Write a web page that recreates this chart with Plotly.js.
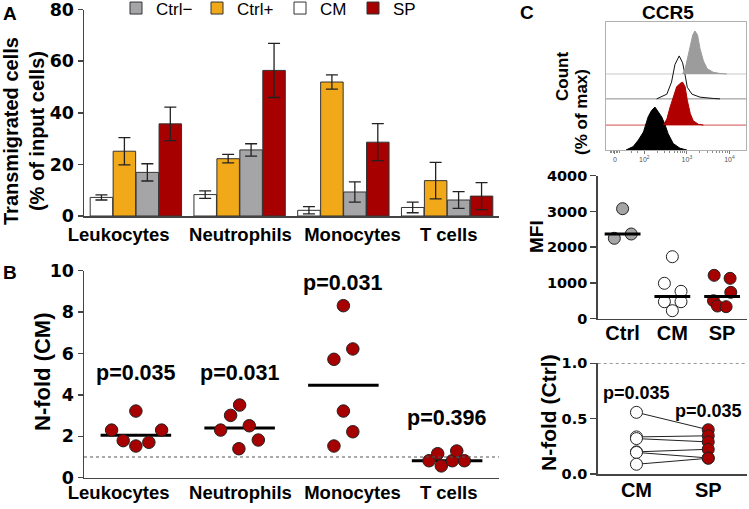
<!DOCTYPE html>
<html>
<head>
<meta charset="utf-8">
<script src="https://cdn.plot.ly/plotly-3.0.1.min.js"></script>
<style>
html, body { margin: 0; padding: 0; background: #fff; }
#chart { width: 749px; height: 509px; }
</style>
</head>
<body>
<div id="chart"></div>
<script>
// ---- panel A: transmigrated cells (% of input), mean +/- error ----
var cellTypes = ['Leukocytes', 'Neutrophils', 'Monocytes', 'T cells'];
var cmMean = [7.2, 8.3, 2.2, 3.3];
var cmErr = [1.0, 1.45, 1.4, 2.05];
var ctrlPosMean = [25.1, 22.2, 51.9, 13.7];
var ctrlPosErr = [5.3, 1.65, 2.75, 7.05];
var ctrlNegMean = [16.9, 25.6, 9.3, 6.2];
var ctrlNegErr = [3.35, 2.4, 3.9, 3.25];
var spMean = [35.7, 56.4, 28.6, 7.7];
var spErr = [6.5, 10.5, 7.15, 5.2];

// ---- panel B: n-fold of CM, one dot per donor ----
var foldLeuk = [2.30, 1.79, 3.22, 1.53, 1.71, 2.30];
var foldNeut = [2.30, 3.01, 3.51, 2.51, 1.40, 1.82];
var foldMono = [8.31, 6.22, 5.72, 3.22, 2.22, 1.53];
var foldT = [0.82, 1.16, 0.57, 0.82, 1.29, 0.82];
var foldP = ['p=0.035', 'p=0.031', 'p=0.031', 'p=0.396'];

// ---- panel C: CCR5 histograms (log10 scale, % of max) ----
var histIsoX = [1.57, 1.74, 1.86, 1.98, 2.09, 2.17, 2.25, 2.33, 2.41, 2.49, 2.56, 2.68, 2.84, 3.00];
var histIsoY = [0, 8, 23, 42, 77, 92, 100, 88, 77, 58, 38, 15, 4, 0];
var histSpX = [2.45, 2.53, 2.60, 2.68, 2.76, 2.84, 2.90, 2.96, 3.01, 3.08, 3.15, 3.27, 3.39];
var histSpY = [0, 14, 40, 67, 89, 97, 100, 89, 58, 27, 10, 2, 0];
var histCmX = [2.29, 2.53, 2.64, 2.72, 2.82, 2.90, 2.96, 3.01, 3.12, 3.31, 3.62, 3.78];
var histCmY = [0, 11, 39, 80, 100, 84, 55, 27, 11, 4, 1, 0];
var histCtrlX = [2.90, 2.96, 3.01, 3.08, 3.14, 3.19, 3.25, 3.31, 3.39, 3.48, 3.62, 3.78, 3.94];
var histCtrlY = [0, 12, 34, 66, 91, 100, 91, 59, 30, 12, 4, 1, 0];

// MFI per donor
var mfiGroups = ['Ctrl', 'CM', 'SP'];
var mfiCtrl = [3077, 2249, 2369];
var mfiCM = [1734, 990, 766, 475, 475, 224];
var mfiSP = [1213, 1129, 738, 503, 355, 336];

// n-fold of Ctrl, paired donors
var pairGroups = ['CM', 'SP'];
var nfoldCM = [0.557, 0.335, 0.320, 0.200, 0.195, 0.088];
var nfoldSP = [0.400, 0.345, 0.290, 0.223, 0.145, 0.142];
var nfoldP = ['p=0.035', 'p=0.035'];

// horizontal spread of dots inside a column (category units)
var jitLeuk = [-0.234, -0.122, 0, 0, 0.125, 0.248];
var jitNeut = [-0.183, -0.087, 0, 0.093, -0.007, 0.18];
var jitMono = [0, 0.091, -0.091, 0, 0.091, -0.091];
var jitT = [-0.174, -0.091, -0.056, 0.05, 0.093, 0.166];
var jitCtrl = [0, -0.166, 0.174];
var jitCM = [0, -0.16, 0.174, -0.16, 0.174, 0];
var jitSP = [-0.16, 0.16, 0.174, -0.174, -0.094, 0.08];

var W = 749, H = 509;
var TEXT = 'Liberation Sans, Arial, sans-serif';
var NUM = 'DejaVu Sans, sans-serif';
var RED = '#A60000', ORANGE = '#F2A919', GREY = '#A5A5A8';
function dx(a, b) { return [a / W, b / W]; }
function dy(top, bottom) { return [1 - bottom / H, 1 - top / H]; }
function median(a) {
  var s = a.slice().sort(function (p, q) { return p - q; });
  var m = Math.floor(s.length / 2);
  return s.length % 2 ? s[m] : (s[m - 1] + s[m]) / 2;
}
var idx = cellTypes.map(function (_, i) { return i; });

var traces = [];
// each legend entry gets its own legend box so it can sit where the original puts it
function bars(name, mean, err, color, legendId) {
  traces.push({
    type: 'bar', x: idx, y: mean, name: name, legend: legendId,
    xaxis: 'x', yaxis: 'y',
    marker: {color: color, line: {color: '#333', width: 1}},
    error_y: {type: 'data', array: err, color: '#222', thickness: 1.3, width: 6}
  });
}
bars('CM', cmMean, cmErr, '#ffffff', 'legend3');
bars('Ctrl+', ctrlPosMean, ctrlPosErr, ORANGE, 'legend2');
bars('Ctrl\u2212', ctrlNegMean, ctrlNegErr, GREY, 'legend');
bars('SP', spMean, spErr, RED, 'legend4');

// dots + median bars
function dots(groups, jits, color, xa, ya, size, medHalf) {
  var xs = [], ys = [], mx = [], my = [];
  groups.forEach(function (vals, i) {
    vals.forEach(function (v, k) { xs.push(i + jits[i][k]); ys.push(v); });
    var m = median(vals);
    mx.push(i - medHalf, i + medHalf, null); my.push(m, m, null);
  });
  traces.push({type: 'scatter', mode: 'lines', x: mx, y: my, xaxis: xa, yaxis: ya,
    line: {color: '#000', width: 3}, showlegend: false, hoverinfo: 'skip'});
  traces.push({type: 'scatter', mode: 'markers', x: xs, y: ys, xaxis: xa, yaxis: ya,
    marker: {size: size, color: color, line: {color: '#222', width: 1}}, showlegend: false});
}
dots([foldLeuk, foldNeut, foldMono, foldT], [jitLeuk, jitNeut, jitMono, jitT], RED, 'x2', 'y2', 12.5, 0.34);

// histograms, stacked bottom to top
var rowOff = [0, 58, 119, 177];
function hist(xv, yv, row, fill, lineColor) {
  traces.push({
    type: 'scatter', mode: 'lines', x: xv, y: yv.map(function (v) { return v + rowOff[row]; }),
    xaxis: 'x3', yaxis: 'y3', fill: fill ? 'toself' : 'none', fillcolor: fill,
    line: {color: lineColor, width: 1}, showlegend: false, hoverinfo: 'skip'
  });
}
hist(histIsoX, histIsoY, 0, '#000000', '#000000');
hist(histSpX, histSpY, 1, '#B00000', '#B00000');
hist(histCmX, histCmY, 2, null, '#111111');
hist(histCtrlX, histCtrlY, 3, '#9C9C9C', '#9C9C9C');

// MFI
(function () {
  var groups = [mfiCtrl, mfiCM, mfiSP], jits = [jitCtrl, jitCM, jitSP];
  var cols = [GREY, '#ffffff', RED];
  var mx = [], my = [];
  groups.forEach(function (vals, i) {
    var m = median(vals);
    mx.push(i - 0.36, i + 0.36, null); my.push(m, m, null);
  });
  groups.forEach(function (vals, i) {
    traces.push({type: 'scatter', mode: 'markers', xaxis: 'x4', yaxis: 'y4', showlegend: false,
      x: vals.map(function (v, k) { return i + jits[i][k]; }), y: vals,
      marker: {size: 12, color: cols[i], line: {color: '#222', width: 1}}});
  });
  traces.push({type: 'scatter', mode: 'lines', x: mx, y: my, xaxis: 'x4', yaxis: 'y4',
    line: {color: '#000', width: 3}, showlegend: false, hoverinfo: 'skip'});
})();

// paired n-fold
(function () {
  var lx = [], ly = [];
  nfoldCM.forEach(function (v, i) { lx.push(0, 1, null); ly.push(v, nfoldSP[i], null); });
  traces.push({type: 'scatter', mode: 'lines', x: lx, y: ly, xaxis: 'x5', yaxis: 'y5',
    line: {color: '#222', width: 1}, showlegend: false, hoverinfo: 'skip'});
  traces.push({type: 'scatter', mode: 'markers', xaxis: 'x5', yaxis: 'y5', showlegend: false,
    x: nfoldCM.map(function () { return 0; }), y: nfoldCM,
    marker: {size: 12, color: '#fff', line: {color: '#222', width: 1}}});
  traces.push({type: 'scatter', mode: 'markers', xaxis: 'x5', yaxis: 'y5', showlegend: false,
    x: nfoldSP.map(function () { return 1; }), y: nfoldSP,
    marker: {size: 12, color: RED, line: {color: '#222', width: 1}}});
})();

var axLine = {showline: true, linecolor: '#444', linewidth: 1.5, showgrid: false, zeroline: false,
  ticklabeloverflow: 'allow'};
function numAx(o) { return Object.assign({}, axLine, {ticks: 'outside', tickcolor: '#444', tickwidth: 1.5}, o); }
function catAx(o) { return Object.assign({}, axLine, {ticks: ''}, o); }
var catFont = function (s) { return {family: TEXT, size: s, color: '#000', weight: 'bold'}; };
var numFont = function (s) { return {family: NUM, size: s, color: '#000', weight: 'bold'}; };

var annotations = [];
function note(text, x, y, size, extra) {
  annotations.push(Object.assign({text: text, xref: 'paper', yref: 'paper', x: x / W, y: 1 - y / H,
    xanchor: 'center', yanchor: 'middle', showarrow: false, font: catFont(size)}, extra || {}));
}
note('A', 10, 14, 19);
note('B', 10, 272, 19);
note('C', 527, 12, 19);
note('CCR5', 668, 12, 19);
note('Transmigrated cells<br>(% of input cells)', 24, 131, 20, {textangle: -90});
note('N-fold (CM)', 42, 372, 22, {textangle: -90});
note('Count', 562, 77, 17, {textangle: -90});
note('(% of max)', 582, 112, 17, {textangle: -90});
note('MFI', 536, 237, 19, {textangle: -90});
note('N-fold (Ctrl)', 548, 413, 21, {textangle: -90});
var foldPY = [5.06, 5.06, 9.4, 2.88];
foldP.forEach(function (t, i) {
  annotations.push({text: t, xref: 'x2', yref: 'y2', x: i, y: foldPY[i], xanchor: 'center', yanchor: 'middle',
    showarrow: false, font: catFont(21.5)});
});
var nfoldPY = [0.734, 0.569];
nfoldP.forEach(function (t, i) {
  annotations.push({text: t, xref: 'x5', yref: 'y5', x: i, y: nfoldPY[i], xanchor: 'center', yanchor: 'middle',
    showarrow: false, font: catFont(18)});
});

var shapes = [
  {type: 'line', xref: 'x2 domain', yref: 'y2', x0: 0, x1: 1, y0: 1, y1: 1, line: {color: '#555', width: 1, dash: '3px,3px'}},
  {type: 'line', xref: 'x5 domain', yref: 'y5', x0: 0, x1: 1, y0: 1, y1: 1, line: {color: '#555', width: 1, dash: '3px,3px'}},
  {type: 'line', xref: 'x3 domain', yref: 'y3', x0: 0, x1: 1, y0: rowOff[1], y1: rowOff[1], layer: 'below', line: {color: '#d05050', width: 1}},
  {type: 'line', xref: 'x3 domain', yref: 'y3', x0: 0, x1: 1, y0: rowOff[2], y1: rowOff[2], layer: 'below', line: {color: '#8a8a8a', width: 1}},
  {type: 'line', xref: 'x3 domain', yref: 'y3', x0: 0, x1: 1, y0: rowOff[3], y1: rowOff[3], layer: 'below', line: {color: '#c8c8c8', width: 1}}
];

function legendAt(left) {
  return {orientation: 'h', x: left / W, y: 1.0187, xanchor: 'left', yanchor: 'top',
    font: {family: TEXT, size: 17, color: '#000'}, bgcolor: 'rgba(0,0,0,0)'};
}

var layout = {
  width: W, height: H, margin: {l: 0, r: 0, t: 0, b: 0, autoexpand: false},
  paper_bgcolor: '#fff', plot_bgcolor: 'rgba(0,0,0,0)',
  barmode: 'group', bargap: 0.115, bargroupgap: 0.02,
  showlegend: true,
  legend: legendAt(116), legend2: legendAt(197), legend3: legendAt(280), legend4: legendAt(353),
  xaxis: catAx({domain: dx(84, 499), range: [-0.5, 3.5], tickvals: [-0.166, 1.008, 2.088, 3.015],
    ticktext: cellTypes, ticklabelstandoff: 1, tickfont: catFont(18.5), anchor: 'y'}),
  yaxis: numAx({domain: dy(9.5, 216), range: [0, 80], dtick: 20, ticklen: 5, tickfont: numFont(17.5), anchor: 'x'}),
  xaxis2: catAx({domain: dx(84, 499), range: [-0.5, 3.5], tickvals: [-0.166, 1.008, 2.088, 3.015],
    ticktext: cellTypes, ticklabelstandoff: -2, tickfont: catFont(18.5), anchor: 'y2'}),
  yaxis2: numAx({domain: dy(270.7, 477.7), range: [0, 10], dtick: 2, ticklen: 5, tickfont: numFont(17.5), anchor: 'x2'}),
  xaxis3: {domain: dx(606, 746), range: [1.10, 4.39], anchor: 'y3', showline: true, mirror: true,
    linecolor: '#b0b0b0', linewidth: 1, showgrid: false, zeroline: false,
    tickvals: [1.31, 2, 3, 4], ticktext: ['0', '10<sup>2</sup>', '10<sup>3</sup>', '10<sup>4</sup>'],
    ticks: 'outside', ticklen: 3, tickcolor: '#777', tickfont: {family: TEXT, size: 7, color: '#555'},
    minor: {ticks: 'outside', ticklen: 2, tickcolor: '#888',
      tickvals: [1.2, 1.24, 1.27, 1.35, 1.38, 1.42, 1.7, 1.85, 2.301, 2.477, 2.602, 2.699, 2.778, 2.845, 2.903, 2.954,
        3.301, 3.477, 3.602, 3.699, 3.778, 3.845, 3.903, 3.954]}},
  yaxis3: {domain: dy(22, 150), range: [0, 298], anchor: 'x3', showline: true, mirror: true,
    linecolor: '#b0b0b0', linewidth: 1, showgrid: false, zeroline: false, showticklabels: false, ticks: ''},
  xaxis4: catAx({domain: dx(597.7, 747), range: [-0.5, 2.5], tickvals: [0, 1, 2], ticktext: mfiGroups,
    ticklabelstandoff: -4, tickfont: catFont(20), anchor: 'y4'}),
  yaxis4: numAx({domain: dy(175.7, 318.7), range: [0, 4000], dtick: 1000, ticklen: 6, tickfont: numFont(14.5), anchor: 'x4'}),
  xaxis5: catAx({domain: dx(597.7, 747), range: [-0.54, 1.54], tickvals: [0, 1], ticktext: pairGroups,
    ticklabelstandoff: -3, tickfont: catFont(20), anchor: 'y5'}),
  yaxis5: numAx({domain: dy(363.3, 474), range: [0, 1], tickvals: [0, 0.5, 1], ticktext: ['0.0', '0.5', '1.0'],
    ticklen: 6, tickfont: numFont(14.5), anchor: 'x5'}),
  annotations: annotations,
  shapes: shapes
};

Plotly.newPlot('chart', traces, layout, {displayModeBar: false, staticPlot: true});
</script>
</body>
</html>
